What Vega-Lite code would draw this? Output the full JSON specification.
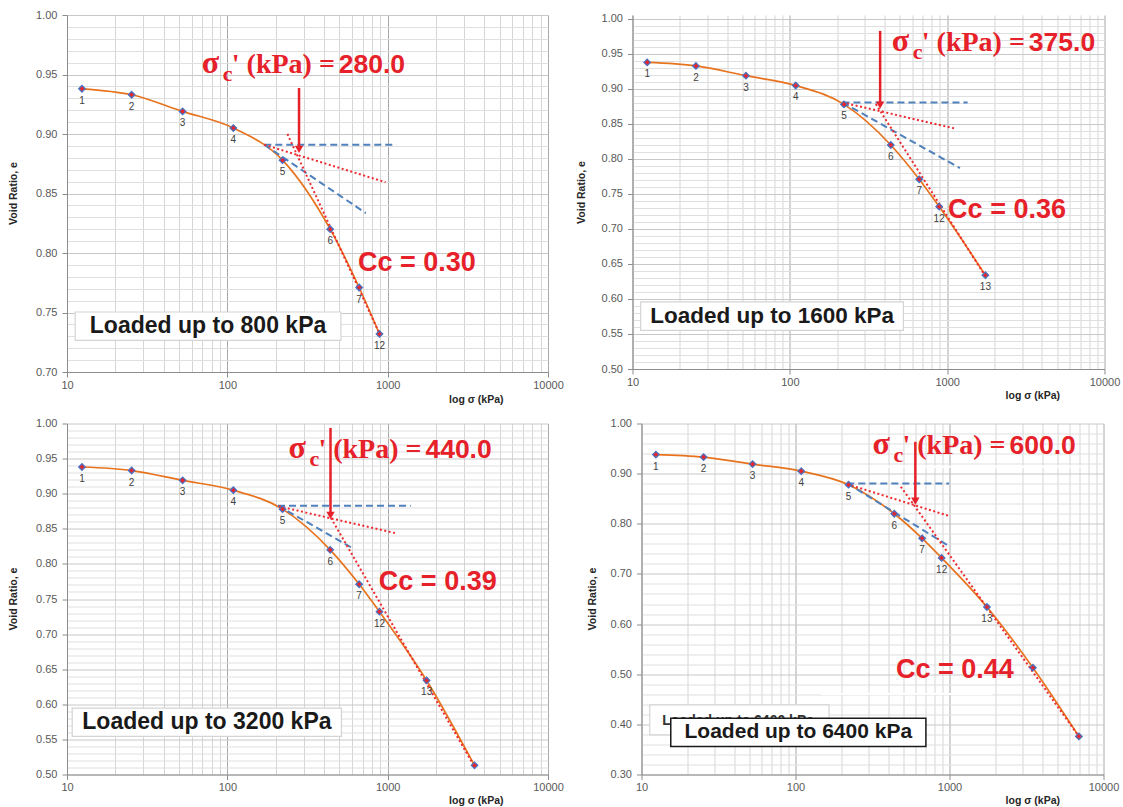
{
  "$schema": "https://vega.github.io/schema/vega-lite/v6.json",
  "background": "white",
  "padding": {"left": 8, "top": 9, "right": 5, "bottom": 0},
  "datasets": {
    "pts": [
      {"k": 1, "n": "1", "s": 12.4, "e": 0.938},
      {"k": 2, "n": "2", "s": 25.3, "e": 0.933},
      {"k": 3, "n": "3", "s": 52.6, "e": 0.919},
      {"k": 4, "n": "4", "s": 109, "e": 0.905},
      {"k": 5, "n": "5", "s": 221, "e": 0.878},
      {"k": 6, "n": "6", "s": 438, "e": 0.82},
      {"k": 7, "n": "7", "s": 664, "e": 0.771},
      {"k": 8, "n": "12", "s": 889, "e": 0.732},
      {"k": 9, "n": "13", "s": 1750, "e": 0.634},
      {"k": 10, "n": "14", "s": 3480, "e": 0.513},
      {"k": 11, "n": "15", "s": 6920, "e": 0.376}
    ],
    "guides": [
      {"p": 1, "id": "h", "kind": "blue", "s": 170, "e": 0.891},
      {"p": 1, "id": "h", "kind": "blue", "s": 1133, "e": 0.891},
      {"p": 1, "id": "t", "kind": "blue", "s": 170, "e": 0.891},
      {"p": 1, "id": "t", "kind": "blue", "s": 731, "e": 0.8335},
      {"p": 1, "id": "b", "kind": "red", "s": 170, "e": 0.891},
      {"p": 1, "id": "b", "kind": "red", "s": 970, "e": 0.8595},
      {"p": 1, "id": "c", "kind": "red", "s": 237, "e": 0.9},
      {"p": 1, "id": "c", "kind": "red", "s": 912, "e": 0.729},
      {"p": 2, "id": "h", "kind": "blue", "s": 216, "e": 0.8808},
      {"p": 2, "id": "h", "kind": "blue", "s": 1349, "e": 0.8808},
      {"p": 2, "id": "t", "kind": "blue", "s": 216, "e": 0.8808},
      {"p": 2, "id": "t", "kind": "blue", "s": 1205, "e": 0.787},
      {"p": 2, "id": "b", "kind": "red", "s": 216, "e": 0.8808},
      {"p": 2, "id": "b", "kind": "red", "s": 1114, "e": 0.8436},
      {"p": 2, "id": "c", "kind": "red", "s": 352, "e": 0.8785},
      {"p": 2, "id": "c", "kind": "red", "s": 1717, "e": 0.6354},
      {"p": 3, "id": "h", "kind": "blue", "s": 207, "e": 0.883},
      {"p": 3, "id": "h", "kind": "blue", "s": 1393, "e": 0.883},
      {"p": 3, "id": "t", "kind": "blue", "s": 207, "e": 0.883},
      {"p": 3, "id": "t", "kind": "blue", "s": 601, "e": 0.8227},
      {"p": 3, "id": "b", "kind": "red", "s": 210, "e": 0.882},
      {"p": 3, "id": "b", "kind": "red", "s": 1146, "e": 0.8432},
      {"p": 3, "id": "c", "kind": "red", "s": 443, "e": 0.8654},
      {"p": 3, "id": "c", "kind": "red", "s": 3475, "e": 0.5114},
      {"p": 4, "id": "h", "kind": "blue", "s": 217, "e": 0.8805},
      {"p": 4, "id": "h", "kind": "blue", "s": 995, "e": 0.8805},
      {"p": 4, "id": "t", "kind": "blue", "s": 217, "e": 0.8805},
      {"p": 4, "id": "t", "kind": "blue", "s": 984, "e": 0.7563},
      {"p": 4, "id": "b", "kind": "red", "s": 217, "e": 0.879},
      {"p": 4, "id": "b", "kind": "red", "s": 995, "e": 0.8155},
      {"p": 4, "id": "c", "kind": "red", "s": 483, "e": 0.8739},
      {"p": 4, "id": "c", "kind": "red", "s": 6918, "e": 0.376}
    ],
    "arrows": [
      {"p": 1, "s": 280, "e": 0.887, "e2": 0.9387},
      {"p": 2, "s": 375, "e": 0.877, "e2": 0.983},
      {"p": 3, "s": 440, "e": 0.869, "e2": 0.9937},
      {"p": 4, "s": 600, "e": 0.8454, "e2": 0.9635}
    ],
    "boxes": [
      {"p": 1, "kind": "plain", "s": 11.25, "s2": 511, "e": 0.7504, "e2": 0.7266},
      {"p": 2, "kind": "plain", "s": 11.27, "s2": 527, "e": 0.5958, "e2": 0.5553},
      {"p": 3, "kind": "plain", "s": 10.78, "s2": 515, "e": 0.5945, "e2": 0.5542},
      {"p": 4, "kind": "plain", "s": 11.31, "s2": 165.2, "e": 0.4389, "e2": 0.3792},
      {"p": 4, "kind": "framed", "s": 15.49, "s2": 702.6, "e": 0.4122, "e2": 0.3559}
    ],
    "blank": [
      {"p": 4, "s": 388, "s2": 7907, "e": 0.9137},
      {"p": 4, "s": 146.6, "s2": 1892, "e": 0.4604}
    ],
    "notes": [
      {"p": 1, "kind": "sig", "s": 69.3, "e": 0.9516, "t": "σ"},
      {"p": 1, "kind": "sub", "s": 69.3, "e": 0.9516, "t": "c"},
      {"p": 1, "kind": "kpa", "s": 69.3, "e": 0.9516, "t": "' (kPa) ="},
      {"p": 1, "kind": "val", "s": 69.3, "e": 0.9516, "t": "280.0"},
      {"p": 1, "kind": "cc", "s": 652, "e": 0.785, "t": "Cc = 0.30"},
      {"p": 1, "kind": "load", "s": 75.8, "e": 0.7385, "t": "Loaded up to 800 kPa"},
      {"p": 2, "kind": "sig", "s": 445, "e": 0.9537, "t": "σ"},
      {"p": 2, "kind": "sub", "s": 445, "e": 0.9537, "t": "c"},
      {"p": 2, "kind": "kpa", "s": 445, "e": 0.9537, "t": "' (kPa) ="},
      {"p": 2, "kind": "val", "s": 445, "e": 0.9537, "t": "375.0"},
      {"p": 2, "kind": "cc", "s": 1014, "e": 0.716, "t": "Cc = 0.36"},
      {"p": 2, "kind": "load", "s": 77.1, "e": 0.5755, "t": "Loaded up to 1600 kPa"},
      {"p": 3, "kind": "sig", "s": 240.4, "e": 0.951, "t": "σ"},
      {"p": 3, "kind": "sub", "s": 240.4, "e": 0.951, "t": "c"},
      {"p": 3, "kind": "kpa", "s": 240.4, "e": 0.951, "t": "' (kPa) ="},
      {"p": 3, "kind": "val", "s": 240.4, "e": 0.951, "t": "440.0"},
      {"p": 3, "kind": "cc", "s": 881, "e": 0.7633, "t": "Cc = 0.39"},
      {"p": 3, "kind": "load", "s": 74.6, "e": 0.5744, "t": "Loaded up to 3200 kPa"},
      {"p": 4, "kind": "sig", "s": 316, "e": 0.9396, "t": "σ"},
      {"p": 4, "kind": "sub", "s": 316, "e": 0.9396, "t": "c"},
      {"p": 4, "kind": "kpa", "s": 316, "e": 0.9396, "t": "' (kPa) ="},
      {"p": 4, "kind": "val", "s": 316, "e": 0.9396, "t": "600.0"},
      {"p": 4, "kind": "cc", "s": 449, "e": 0.492, "t": "Cc = 0.44"},
      {"p": 4, "kind": "ghost", "s": 13.65, "e": 0.3997, "t": "Loaded up to 6400 kPa"},
      {"p": 4, "kind": "load", "s": 104.3, "e": 0.3841, "t": "Loaded up to 6400 kPa"}
    ]
  },
  "spacing": 12.5,
  "vconcat": [
    {
      "hconcat": [
        {
          "width": 481, "height": 357,
          "encoding": {
            "x": {"field": "s", "type": "quantitative", "scale": {"type": "log", "domain": [10, 10000], "nice": false},
              "axis": {"title": "log σ (kPa)", "values": [10,20,30,40,50,60,70,80,90,100,200,300,400,500,600,700,800,900,1000,2000,3000,4000,5000,6000,7000,8000,9000,10000], "format": "d",
                "labelExpr": "indexof([10,100,1000,10000], datum.value) >= 0 ? datum.label : ''",
                "gridColor": {"condition": {"test": "indexof([10,100,1000,10000], datum.value) >= 0", "value": "#a8a8a8"}, "value": "#d6d6d6"},
                "tickOpacity": {"condition": {"test": "indexof([10,100,1000,10000], datum.value) >= 0", "value": 1}, "value": 0},
                "titleX": 436, "titleY": 30, "titleAlign": "right", "titleBaseline": "alphabetic"}},
            "y": {"field": "e", "type": "quantitative", "scale": {"domain": [0.7, 1.0], "nice": false, "zero": false},
              "axis": {"title": "Void Ratio, e", "values": [0.7,0.71,0.72,0.73,0.74,0.75,0.76,0.77,0.78,0.79,0.8,0.81,0.82,0.83,0.84,0.85,0.86,0.87,0.88,0.89,0.9,0.91,0.92,0.93,0.94,0.95,0.96,0.97,0.98,0.99,1],
                "labelExpr": "abs(datum.value*20-round(datum.value*20)) < 0.001 ? format(datum.value, '.2f') : ''",
                "gridColor": {"condition": {"test": "abs(datum.value*20-round(datum.value*20)) < 0.001", "value": "#c8c8c8"}, "value": "#dfdfdf"},
                "tickOpacity": {"condition": {"test": "abs(datum.value*20-round(datum.value*20)) < 0.001", "value": 1}, "value": 0},
                "titleX": -54, "titleY": 178, "titleBaseline": "middle", "titleAlign": "center"}}
          },
          "layer": [
            {"data": {"name": "boxes"}, "transform": [{"filter": "datum.p == 1 && datum.kind == 'plain'"}], "mark": {"type": "rect", "fill": "white", "stroke": "#d4d4d4", "strokeWidth": 1.2}, "encoding": {"x2": {"field": "s2"}, "y2": {"field": "e2"}}},
            {"data": {"name": "notes"}, "transform": [{"filter": "datum.p == 1 && datum.kind == 'load'"}], "mark": {"type": "text", "font": "Liberation Sans", "fontWeight": "bold", "fontSize": 23, "color": "#1a1a1a", "align": "center", "baseline": "middle"}, "encoding": {"text": {"field": "t"}}},
            {"data": {"name": "pts"}, "transform": [{"filter": "datum.k <= 8"}], "mark": {"type": "line", "color": "#e8731e", "strokeWidth": 1.7, "interpolate": "monotone"}},
            {"data": {"name": "guides"}, "transform": [{"filter": "datum.p == 1 && datum.kind == 'blue'"}], "mark": {"type": "line", "color": "#4f81bd", "strokeWidth": 2, "strokeDash": [7, 4]}, "encoding": {"detail": {"field": "id"}}},
            {"data": {"name": "guides"}, "transform": [{"filter": "datum.p == 1 && datum.kind == 'red'"}], "mark": {"type": "line", "color": "#ee2a2f", "strokeWidth": 2, "strokeDash": [2, 2.5]}, "encoding": {"detail": {"field": "id"}}},
            {"data": {"name": "arrows"}, "transform": [{"filter": "datum.p == 1"}], "mark": {"type": "rule", "color": "#e62129", "strokeWidth": 2.5}, "encoding": {"y2": {"field": "e2"}}},
            {"data": {"name": "arrows"}, "transform": [{"filter": "datum.p == 1"}], "mark": {"type": "point", "shape": "triangle-down", "filled": true, "color": "#e62129", "size": 70, "opacity": 1}},
            {"data": {"name": "pts"}, "transform": [{"filter": "datum.k <= 8"}], "mark": {"type": "point", "shape": "diamond", "filled": true, "fill": "#e8242c", "stroke": "#4a72c0", "strokeWidth": 1.3, "size": 42, "opacity": 1}},
            {"data": {"name": "pts"}, "transform": [{"filter": "datum.k <= 8"}], "mark": {"type": "text", "font": "Liberation Sans", "fontSize": 10, "color": "#404040", "dy": 12, "baseline": "middle"}, "encoding": {"text": {"field": "n"}}},
            {"data": {"name": "notes"}, "transform": [{"filter": "datum.p == 1 && datum.kind == 'sig'"}], "mark": {"type": "text", "font": "Liberation Serif", "fontWeight": "bold", "fontSize": 32, "color": "#e62129", "align": "left", "baseline": "alphabetic"}, "encoding": {"text": {"field": "t"}}},
            {"data": {"name": "notes"}, "transform": [{"filter": "datum.p == 1 && datum.kind == 'sub'"}], "mark": {"type": "text", "font": "Liberation Serif", "fontWeight": "bold", "fontSize": 22, "color": "#e62129", "align": "left", "baseline": "alphabetic", "dx": 21, "dy": 8}, "encoding": {"text": {"field": "t"}}},
            {"data": {"name": "notes"}, "transform": [{"filter": "datum.p == 1 && datum.kind == 'kpa'"}], "mark": {"type": "text", "font": "Liberation Serif", "fontWeight": "bold", "fontSize": 28, "color": "#e62129", "align": "left", "baseline": "alphabetic", "dx": 30}, "encoding": {"text": {"field": "t"}}},
            {"data": {"name": "notes"}, "transform": [{"filter": "datum.p == 1 && datum.kind == 'val'"}], "mark": {"type": "text", "font": "Liberation Sans", "fontWeight": "bold", "fontSize": 26.5, "color": "#e62129", "align": "left", "baseline": "alphabetic", "dx": 137}, "encoding": {"text": {"field": "t"}}},
            {"data": {"name": "notes"}, "transform": [{"filter": "datum.p == 1 && datum.kind == 'cc'"}], "mark": {"type": "text", "font": "Liberation Sans", "fontWeight": "bold", "fontSize": 27, "color": "#e62129", "align": "left", "baseline": "alphabetic"}, "encoding": {"text": {"field": "t"}}}
          ]
        },
        {
          "width": 472, "height": 354,
          "encoding": {
            "x": {"field": "s", "type": "quantitative", "scale": {"type": "log", "domain": [10, 10000], "nice": false},
              "axis": {"title": "log σ (kPa)", "values": [10,20,30,40,50,60,70,80,90,100,200,300,400,500,600,700,800,900,1000,2000,3000,4000,5000,6000,7000,8000,9000,10000], "format": "d",
                "labelExpr": "indexof([10,100,1000,10000], datum.value) >= 0 ? datum.label : ''",
                "gridColor": {"condition": {"test": "indexof([10,100,1000,10000], datum.value) >= 0", "value": "#a8a8a8"}, "value": "#d6d6d6"},
                "tickOpacity": {"condition": {"test": "indexof([10,100,1000,10000], datum.value) >= 0", "value": 1}, "value": 0},
                "titleX": 427, "titleY": 29, "titleAlign": "right", "titleBaseline": "alphabetic"}},
            "y": {"field": "e", "type": "quantitative", "scale": {"domain": [0.5, 1.0057], "nice": false, "zero": false},
              "axis": {"title": "Void Ratio, e", "values": [0.5,0.51,0.52,0.53,0.54,0.55,0.56,0.57,0.58,0.59,0.6,0.61,0.62,0.63,0.64,0.65,0.66,0.67,0.68,0.69,0.7,0.71,0.72,0.73,0.74,0.75,0.76,0.77,0.78,0.79,0.8,0.81,0.82,0.83,0.84,0.85,0.86,0.87,0.88,0.89,0.9,0.91,0.92,0.93,0.94,0.95,0.96,0.97,0.98,0.99,1],
                "labelExpr": "abs(datum.value*20-round(datum.value*20)) < 0.001 ? format(datum.value, '.2f') : ''",
                "gridColor": {"condition": {"test": "abs(datum.value*20-round(datum.value*20)) < 0.001", "value": "#c8c8c8"}, "value": "#dfdfdf"},
                "tickOpacity": {"condition": {"test": "abs(datum.value*20-round(datum.value*20)) < 0.001", "value": 1}, "value": 0},
                "titleX": -51, "titleY": 177, "titleBaseline": "middle", "titleAlign": "center"}}
          },
          "layer": [
            {"data": {"name": "boxes"}, "transform": [{"filter": "datum.p == 2 && datum.kind == 'plain'"}], "mark": {"type": "rect", "fill": "white", "stroke": "#d4d4d4", "strokeWidth": 1.2}, "encoding": {"x2": {"field": "s2"}, "y2": {"field": "e2"}}},
            {"data": {"name": "notes"}, "transform": [{"filter": "datum.p == 2 && datum.kind == 'load'"}], "mark": {"type": "text", "font": "Liberation Sans", "fontWeight": "bold", "fontSize": 22.5, "color": "#1a1a1a", "align": "center", "baseline": "middle"}, "encoding": {"text": {"field": "t"}}},
            {"data": {"name": "pts"}, "transform": [{"filter": "datum.k <= 9"}], "mark": {"type": "line", "color": "#e8731e", "strokeWidth": 1.7, "interpolate": "monotone"}},
            {"data": {"name": "guides"}, "transform": [{"filter": "datum.p == 2 && datum.kind == 'blue'"}], "mark": {"type": "line", "color": "#4f81bd", "strokeWidth": 2, "strokeDash": [7, 4]}, "encoding": {"detail": {"field": "id"}}},
            {"data": {"name": "guides"}, "transform": [{"filter": "datum.p == 2 && datum.kind == 'red'"}], "mark": {"type": "line", "color": "#ee2a2f", "strokeWidth": 2, "strokeDash": [2, 2.5]}, "encoding": {"detail": {"field": "id"}}},
            {"data": {"name": "arrows"}, "transform": [{"filter": "datum.p == 2"}], "mark": {"type": "rule", "color": "#e62129", "strokeWidth": 2.5}, "encoding": {"y2": {"field": "e2"}}},
            {"data": {"name": "arrows"}, "transform": [{"filter": "datum.p == 2"}], "mark": {"type": "point", "shape": "triangle-down", "filled": true, "color": "#e62129", "size": 70, "opacity": 1}},
            {"data": {"name": "pts"}, "transform": [{"filter": "datum.k <= 9"}], "mark": {"type": "point", "shape": "diamond", "filled": true, "fill": "#e8242c", "stroke": "#4a72c0", "strokeWidth": 1.3, "size": 42, "opacity": 1}},
            {"data": {"name": "pts"}, "transform": [{"filter": "datum.k <= 9"}], "mark": {"type": "text", "font": "Liberation Sans", "fontSize": 10, "color": "#404040", "dy": 12, "baseline": "middle"}, "encoding": {"text": {"field": "n"}}},
            {"data": {"name": "notes"}, "transform": [{"filter": "datum.p == 2 && datum.kind == 'sig'"}], "mark": {"type": "text", "font": "Liberation Serif", "fontWeight": "bold", "fontSize": 32, "color": "#e62129", "align": "left", "baseline": "alphabetic"}, "encoding": {"text": {"field": "t"}}},
            {"data": {"name": "notes"}, "transform": [{"filter": "datum.p == 2 && datum.kind == 'sub'"}], "mark": {"type": "text", "font": "Liberation Serif", "fontWeight": "bold", "fontSize": 22, "color": "#e62129", "align": "left", "baseline": "alphabetic", "dx": 21, "dy": 8}, "encoding": {"text": {"field": "t"}}},
            {"data": {"name": "notes"}, "transform": [{"filter": "datum.p == 2 && datum.kind == 'kpa'"}], "mark": {"type": "text", "font": "Liberation Serif", "fontWeight": "bold", "fontSize": 28, "color": "#e62129", "align": "left", "baseline": "alphabetic", "dx": 30}, "encoding": {"text": {"field": "t"}}},
            {"data": {"name": "notes"}, "transform": [{"filter": "datum.p == 2 && datum.kind == 'val'"}], "mark": {"type": "text", "font": "Liberation Sans", "fontWeight": "bold", "fontSize": 26.5, "color": "#e62129", "align": "left", "baseline": "alphabetic", "dx": 137}, "encoding": {"text": {"field": "t"}}},
            {"data": {"name": "notes"}, "transform": [{"filter": "datum.p == 2 && datum.kind == 'cc'"}], "mark": {"type": "text", "font": "Liberation Sans", "fontWeight": "bold", "fontSize": 27, "color": "#e62129", "align": "left", "baseline": "alphabetic"}, "encoding": {"text": {"field": "t"}}}
          ]
        }
      ],
      "spacing": 84.5,
      "bounds": "flush"
    },
    {
      "hconcat": [
        {
          "width": 481, "height": 351,
          "encoding": {
            "x": {"field": "s", "type": "quantitative", "scale": {"type": "log", "domain": [10, 10000], "nice": false},
              "axis": {"title": "log σ (kPa)", "values": [10,20,30,40,50,60,70,80,90,100,200,300,400,500,600,700,800,900,1000,2000,3000,4000,5000,6000,7000,8000,9000,10000], "format": "d",
                "labelExpr": "indexof([10,100,1000,10000], datum.value) >= 0 ? datum.label : ''",
                "gridColor": {"condition": {"test": "indexof([10,100,1000,10000], datum.value) >= 0", "value": "#a8a8a8"}, "value": "#d6d6d6"},
                "tickOpacity": {"condition": {"test": "indexof([10,100,1000,10000], datum.value) >= 0", "value": 1}, "value": 0},
                "titleX": 436, "titleY": 29, "titleAlign": "right", "titleBaseline": "alphabetic"}},
            "y": {"field": "e", "type": "quantitative", "scale": {"domain": [0.5, 1.0], "nice": false, "zero": false},
              "axis": {"title": "Void Ratio, e", "values": [0.5,0.51,0.52,0.53,0.54,0.55,0.56,0.57,0.58,0.59,0.6,0.61,0.62,0.63,0.64,0.65,0.66,0.67,0.68,0.69,0.7,0.71,0.72,0.73,0.74,0.75,0.76,0.77,0.78,0.79,0.8,0.81,0.82,0.83,0.84,0.85,0.86,0.87,0.88,0.89,0.9,0.91,0.92,0.93,0.94,0.95,0.96,0.97,0.98,0.99,1],
                "labelExpr": "abs(datum.value*20-round(datum.value*20)) < 0.001 ? format(datum.value, '.2f') : ''",
                "gridColor": {"condition": {"test": "abs(datum.value*20-round(datum.value*20)) < 0.001", "value": "#c8c8c8"}, "value": "#dfdfdf"},
                "tickOpacity": {"condition": {"test": "abs(datum.value*20-round(datum.value*20)) < 0.001", "value": 1}, "value": 0},
                "titleX": -54, "titleY": 175, "titleBaseline": "middle", "titleAlign": "center"}}
          },
          "layer": [
            {"data": {"name": "boxes"}, "transform": [{"filter": "datum.p == 3 && datum.kind == 'plain'"}], "mark": {"type": "rect", "fill": "white", "stroke": "#d4d4d4", "strokeWidth": 1.2}, "encoding": {"x2": {"field": "s2"}, "y2": {"field": "e2"}}},
            {"data": {"name": "notes"}, "transform": [{"filter": "datum.p == 3 && datum.kind == 'load'"}], "mark": {"type": "text", "font": "Liberation Sans", "fontWeight": "bold", "fontSize": 23, "color": "#1a1a1a", "align": "center", "baseline": "middle"}, "encoding": {"text": {"field": "t"}}},
            {"data": {"name": "pts"}, "transform": [{"filter": "datum.k <= 10"}], "mark": {"type": "line", "color": "#e8731e", "strokeWidth": 1.7, "interpolate": "monotone"}},
            {"data": {"name": "guides"}, "transform": [{"filter": "datum.p == 3 && datum.kind == 'blue'"}], "mark": {"type": "line", "color": "#4f81bd", "strokeWidth": 2, "strokeDash": [7, 4]}, "encoding": {"detail": {"field": "id"}}},
            {"data": {"name": "guides"}, "transform": [{"filter": "datum.p == 3 && datum.kind == 'red'"}], "mark": {"type": "line", "color": "#ee2a2f", "strokeWidth": 2, "strokeDash": [2, 2.5]}, "encoding": {"detail": {"field": "id"}}},
            {"data": {"name": "arrows"}, "transform": [{"filter": "datum.p == 3"}], "mark": {"type": "rule", "color": "#e62129", "strokeWidth": 2.5}, "encoding": {"y2": {"field": "e2"}}},
            {"data": {"name": "arrows"}, "transform": [{"filter": "datum.p == 3"}], "mark": {"type": "point", "shape": "triangle-down", "filled": true, "color": "#e62129", "size": 70, "opacity": 1}},
            {"data": {"name": "pts"}, "transform": [{"filter": "datum.k <= 10"}], "mark": {"type": "point", "shape": "diamond", "filled": true, "fill": "#e8242c", "stroke": "#4a72c0", "strokeWidth": 1.3, "size": 42, "opacity": 1}},
            {"data": {"name": "pts"}, "transform": [{"filter": "datum.k <= 9"}], "mark": {"type": "text", "font": "Liberation Sans", "fontSize": 10, "color": "#404040", "dy": 12, "baseline": "middle"}, "encoding": {"text": {"field": "n"}}},
            {"data": {"name": "notes"}, "transform": [{"filter": "datum.p == 3 && datum.kind == 'sig'"}], "mark": {"type": "text", "font": "Liberation Serif", "fontWeight": "bold", "fontSize": 32, "color": "#e62129", "align": "left", "baseline": "alphabetic"}, "encoding": {"text": {"field": "t"}}},
            {"data": {"name": "notes"}, "transform": [{"filter": "datum.p == 3 && datum.kind == 'sub'"}], "mark": {"type": "text", "font": "Liberation Serif", "fontWeight": "bold", "fontSize": 22, "color": "#e62129", "align": "left", "baseline": "alphabetic", "dx": 21, "dy": 8}, "encoding": {"text": {"field": "t"}}},
            {"data": {"name": "notes"}, "transform": [{"filter": "datum.p == 3 && datum.kind == 'kpa'"}], "mark": {"type": "text", "font": "Liberation Serif", "fontWeight": "bold", "fontSize": 28, "color": "#e62129", "align": "left", "baseline": "alphabetic", "dx": 30}, "encoding": {"text": {"field": "t"}}},
            {"data": {"name": "notes"}, "transform": [{"filter": "datum.p == 3 && datum.kind == 'val'"}], "mark": {"type": "text", "font": "Liberation Sans", "fontWeight": "bold", "fontSize": 26.5, "color": "#e62129", "align": "left", "baseline": "alphabetic", "dx": 137}, "encoding": {"text": {"field": "t"}}},
            {"data": {"name": "notes"}, "transform": [{"filter": "datum.p == 3 && datum.kind == 'cc'"}], "mark": {"type": "text", "font": "Liberation Sans", "fontWeight": "bold", "fontSize": 27, "color": "#e62129", "align": "left", "baseline": "alphabetic"}, "encoding": {"text": {"field": "t"}}}
          ]
        },
        {
          "width": 462, "height": 351,
          "encoding": {
            "x": {"field": "s", "type": "quantitative", "scale": {"type": "log", "domain": [10, 10000], "nice": false},
              "axis": {"title": "log σ (kPa)", "values": [10,20,30,40,50,60,70,80,90,100,200,300,400,500,600,700,800,900,1000,2000,3000,4000,5000,6000,7000,8000,9000,10000], "format": "d",
                "labelExpr": "indexof([10,100,1000,10000], datum.value) >= 0 ? datum.label : ''",
                "gridColor": {"condition": {"test": "indexof([10,100,1000,10000], datum.value) >= 0", "value": "#a8a8a8"}, "value": "#d6d6d6"},
                "tickOpacity": {"condition": {"test": "indexof([10,100,1000,10000], datum.value) >= 0", "value": 1}, "value": 0},
                "titleX": 418, "titleY": 29, "titleAlign": "right", "titleBaseline": "alphabetic"}},
            "y": {"field": "e", "type": "quantitative", "scale": {"domain": [0.3, 1.0], "nice": false, "zero": false},
              "axis": {"title": "Void Ratio, e", "values": [0.3,0.32,0.34,0.36,0.38,0.4,0.42,0.44,0.46,0.48,0.5,0.52,0.54,0.56,0.58,0.6,0.62,0.64,0.66,0.68,0.7,0.72,0.74,0.76,0.78,0.8,0.82,0.84,0.86,0.88,0.9,0.92,0.94,0.96,0.98,1],
                "labelExpr": "abs(datum.value*10-round(datum.value*10)) < 0.001 ? format(datum.value, '.2f') : ''",
                "gridColor": {"condition": {"test": "abs(datum.value*10-round(datum.value*10)) < 0.001", "value": "#c8c8c8"}, "value": "#dfdfdf"},
                "tickOpacity": {"condition": {"test": "abs(datum.value*10-round(datum.value*10)) < 0.001", "value": 1}, "value": 0},
                "titleX": -49.5, "titleY": 175, "titleBaseline": "middle", "titleAlign": "center"}}
          },
          "layer": [
            {"data": {"name": "blank"}, "transform": [{"filter": "datum.p == 4"}], "mark": {"type": "rule", "color": "white", "strokeWidth": 2}, "encoding": {"x2": {"field": "s2"}}},
            {"data": {"name": "boxes"}, "transform": [{"filter": "datum.p == 4 && datum.kind == 'plain'"}], "mark": {"type": "rect", "fill": "white", "stroke": "#d4d4d4", "strokeWidth": 1.2}, "encoding": {"x2": {"field": "s2"}, "y2": {"field": "e2"}}},
            {"data": {"name": "notes"}, "transform": [{"filter": "datum.p == 4 && datum.kind == 'ghost'"}], "mark": {"type": "text", "font": "Liberation Sans", "fontWeight": "bold", "fontSize": 14, "color": "#333333", "align": "left", "baseline": "alphabetic"}, "encoding": {"text": {"field": "t"}}},
            {"data": {"name": "boxes"}, "transform": [{"filter": "datum.p == 4 && datum.kind == 'framed'"}], "mark": {"type": "rect", "fill": "white", "stroke": "#1a1a1a", "strokeWidth": 1.5}, "encoding": {"x2": {"field": "s2"}, "y2": {"field": "e2"}}},
            {"data": {"name": "notes"}, "transform": [{"filter": "datum.p == 4 && datum.kind == 'load'"}], "mark": {"type": "text", "font": "Liberation Sans", "fontWeight": "bold", "fontSize": 21, "color": "#1a1a1a", "align": "center", "baseline": "middle"}, "encoding": {"text": {"field": "t"}}},
            {"data": {"name": "pts"}, "transform": [{"filter": "datum.k <= 11"}], "mark": {"type": "line", "color": "#e8731e", "strokeWidth": 1.7, "interpolate": "monotone"}},
            {"data": {"name": "guides"}, "transform": [{"filter": "datum.p == 4 && datum.kind == 'blue'"}], "mark": {"type": "line", "color": "#4f81bd", "strokeWidth": 2, "strokeDash": [7, 4]}, "encoding": {"detail": {"field": "id"}}},
            {"data": {"name": "guides"}, "transform": [{"filter": "datum.p == 4 && datum.kind == 'red'"}], "mark": {"type": "line", "color": "#ee2a2f", "strokeWidth": 2, "strokeDash": [2, 2.5]}, "encoding": {"detail": {"field": "id"}}},
            {"data": {"name": "arrows"}, "transform": [{"filter": "datum.p == 4"}], "mark": {"type": "rule", "color": "#e62129", "strokeWidth": 2.5}, "encoding": {"y2": {"field": "e2"}}},
            {"data": {"name": "arrows"}, "transform": [{"filter": "datum.p == 4"}], "mark": {"type": "point", "shape": "triangle-down", "filled": true, "color": "#e62129", "size": 70, "opacity": 1}},
            {"data": {"name": "pts"}, "transform": [{"filter": "datum.k <= 11"}], "mark": {"type": "point", "shape": "diamond", "filled": true, "fill": "#e8242c", "stroke": "#4a72c0", "strokeWidth": 1.3, "size": 42, "opacity": 1}},
            {"data": {"name": "pts"}, "transform": [{"filter": "datum.k <= 9"}], "mark": {"type": "text", "font": "Liberation Sans", "fontSize": 10, "color": "#404040", "dy": 12, "baseline": "middle"}, "encoding": {"text": {"field": "n"}}},
            {"data": {"name": "notes"}, "transform": [{"filter": "datum.p == 4 && datum.kind == 'sig'"}], "mark": {"type": "text", "font": "Liberation Serif", "fontWeight": "bold", "fontSize": 32, "color": "#e62129", "align": "left", "baseline": "alphabetic"}, "encoding": {"text": {"field": "t"}}},
            {"data": {"name": "notes"}, "transform": [{"filter": "datum.p == 4 && datum.kind == 'sub'"}], "mark": {"type": "text", "font": "Liberation Serif", "fontWeight": "bold", "fontSize": 22, "color": "#e62129", "align": "left", "baseline": "alphabetic", "dx": 21, "dy": 8}, "encoding": {"text": {"field": "t"}}},
            {"data": {"name": "notes"}, "transform": [{"filter": "datum.p == 4 && datum.kind == 'kpa'"}], "mark": {"type": "text", "font": "Liberation Serif", "fontWeight": "bold", "fontSize": 28, "color": "#e62129", "align": "left", "baseline": "alphabetic", "dx": 30}, "encoding": {"text": {"field": "t"}}},
            {"data": {"name": "notes"}, "transform": [{"filter": "datum.p == 4 && datum.kind == 'val'"}], "mark": {"type": "text", "font": "Liberation Sans", "fontWeight": "bold", "fontSize": 26.5, "color": "#e62129", "align": "left", "baseline": "alphabetic", "dx": 137}, "encoding": {"text": {"field": "t"}}},
            {"data": {"name": "notes"}, "transform": [{"filter": "datum.p == 4 && datum.kind == 'cc'"}], "mark": {"type": "text", "font": "Liberation Sans", "fontWeight": "bold", "fontSize": 27, "color": "#e62129", "align": "left", "baseline": "alphabetic"}, "encoding": {"text": {"field": "t"}}}
          ]
        }
      ],
      "spacing": 93.5,
      "bounds": "flush"
    }
  ],
  "config": {
    "view": {"stroke": null},
    "axis": {
      "labelFont": "Liberation Sans", "labelFontSize": 11, "labelColor": "#595959",
      "titleFont": "Liberation Sans", "titleFontSize": 10.5, "titleFontWeight": "bold", "titleColor": "#262626",
      "domainColor": "#8c8c8c", "tickColor": "#8c8c8c", "tickSize": 5, "gridWidth": 1, "gridOpacity": 1,
      "labelFlush": false, "labelOverlap": false
    },
    "axisX": {"labelPadding": 2},
    "axisY": {"labelPadding": 5}
  }
}
